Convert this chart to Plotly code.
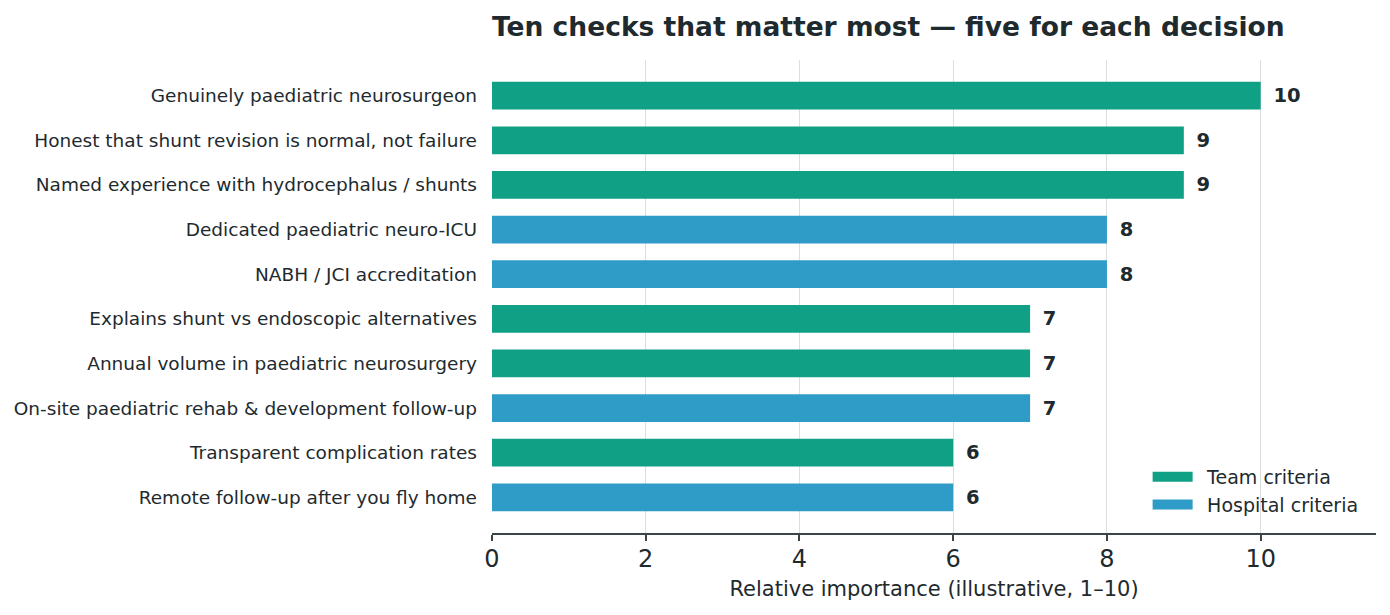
import plotly.graph_objects as go

categories = [
    "Genuinely paediatric neurosurgeon",
    "Honest that shunt revision is normal, not failure",
    "Named experience with hydrocephalus / shunts",
    "Dedicated paediatric neuro-ICU",
    "NABH / JCI accreditation",
    "Explains shunt vs endoscopic alternatives",
    "Annual volume in paediatric neurosurgery",
    "On-site paediatric rehab & development follow-up",
    "Transparent complication rates",
    "Remote follow-up after you fly home",
]
values = [10, 9, 9, 8, 8, 7, 7, 7, 6, 6]
groups = ["Team", "Team", "Team", "Hospital", "Hospital", "Team", "Team", "Hospital", "Team", "Hospital"]
x_ticks = [0, 2, 4, 6, 8, 10]

series = [("Team", "Team criteria", "#10a086"), ("Hospital", "Hospital criteria", "#2e9cc6")]
TEXT = "#1e2a2e"

fig = go.Figure()
for key, name, color in series:
    ys = [c for c, g in zip(categories, groups) if g == key]
    xs = [v for v, g in zip(values, groups) if g == key]
    fig.add_trace(go.Bar(
        y=ys, x=xs, orientation="h", name=name, marker_color=color,
        marker_line_width=0, width=0.62, showlegend=False,
        text=["\u2002" + str(v) for v in xs], textposition="outside",
        textfont=dict(family="DejaVu Sans", size=19.5, color=TEXT, weight="bold"),
        cliponaxis=False,
    ))
# legend entries drawn as thick line swatches (no data of their own)
for key, name, color in series:
    fig.add_trace(go.Scatter(
        x=[None], y=[None], mode="lines", name="\u2002" + name,
        line=dict(color=color, width=15),
    ))

fig.update_layout(
    width=1382, height=607,
    margin=dict(l=484, r=14, t=52, b=82),
    paper_bgcolor="white", plot_bgcolor="white",
    barmode="overlay",
    font=dict(family="DejaVu Sans", color=TEXT),
    title=dict(text="<b>Ten checks that matter most — five for each decision</b>",
               x=0, xref="paper", xanchor="left", y=0.969, yanchor="middle",
               font=dict(size=26.5, color=TEXT)),
    legend=dict(x=0.986, y=0.019, xanchor="right", yanchor="bottom",
                bgcolor="rgba(255,255,255,0)", font=dict(size=19, color=TEXT),
                traceorder="normal", itemwidth=40),
    showlegend=True,
)
fig.update_xaxes(range=[0, 11.5], tickvals=x_ticks,
                 showgrid=True, gridcolor="#dcdfe0", gridwidth=1,
                 showline=True, linecolor="#3a4548", linewidth=2,
                 ticks="outside", tickcolor="#3a4548", ticklen=6, tickwidth=2,
                 tickfont=dict(size=24, color=TEXT), zeroline=False,
                 ticklabelstandoff=-3, automargin=False,
                 title=dict(text="Relative importance (illustrative, 1–10)",
                            font=dict(size=21, color=TEXT), standoff=10))
fig.update_yaxes(categoryorder="array", categoryarray=categories,
                 autorange=False, range=[9.8, -0.8],
                 showline=False, ticks="", showgrid=False, automargin=False,
                 tickfont=dict(size=18.5, color=TEXT), ticklabelstandoff=14)

fig.write_html("out.html")
